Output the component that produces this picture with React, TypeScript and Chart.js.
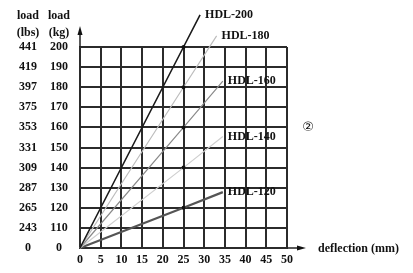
import React, { useEffect, useRef } from "react";
import { Chart, registerables } from "chart.js";

Chart.register(...registerables);

// Axis tick labels (broken load axis: 0, then 110..200 kg)
const kgLabels = ["0", "110", "120", "130", "140", "150", "160", "170", "180", "190", "200"];
const lbsLabels = ["0", "243", "265", "287", "309", "331", "353", "375", "397", "419", "441"];
const deflectionTicks = [0, 5, 10, 15, 20, 25, 30, 35, 40, 45, 50];

// Series: deflection (mm) and load (kg)
const seriesNames = ["HDL-200", "HDL-180", "HDL-160", "HDL-140", "HDL-120"];
const hdl200Deflection = [0, 25, 29];
const hdl200Load = [0, 200, 216];
const hdl180Deflection = [0, 25, 33];
const hdl180Load = [0, 180, 205.5];
const hdl160Deflection = [0, 25, 34.5];
const hdl160Load = [0, 160, 183];
const hdl140Deflection = [0, 25, 34.5];
const hdl140Load = [0, 140, 155.5];
const hdl120Deflection = [0, 25, 34.5];
const hdl120Load = [0, 120, 127.8];

const seriesColors = ["#1a1a1a", "#bdbdbd", "#8a8a8a", "#cfcfcf", "#555555"];
const seriesWidths = [1.6, 1.2, 1.2, 1.2, 2.2];

// kg -> row index on the broken axis (0 at origin, 110 at row 1, 200 at row 10)
const toRow = (kg: number) => (kg === 0 ? 0 : (kg - 100) / 10);

const FONT = '"Liberation Serif", "Times New Roman", serif';

export default function App() {
  const ref = useRef<HTMLCanvasElement | null>(null);

  useEffect(() => {
    if (!ref.current) return;
    const pairs = [
      [hdl200Deflection, hdl200Load],
      [hdl180Deflection, hdl180Load],
      [hdl160Deflection, hdl160Load],
      [hdl140Deflection, hdl140Load],
      [hdl120Deflection, hdl120Load],
    ];
    const datasets = pairs.map(([xs, ys], i) => ({
      label: seriesNames[i],
      data: xs.map((x, j) => ({ x, y: toRow(ys[j]) })),
      borderColor: seriesColors[i],
      borderWidth: seriesWidths[i],
      pointRadius: [0, 2, 0],
      pointBackgroundColor: "#111",
      pointBorderWidth: 0,
      clip: false as any,
      tension: 0,
    }));

    const decor = {
      id: "decor",
      afterDatasetsDraw(chart: any) {
        const ctx = chart.ctx;
        const a = chart.chartArea;
        ctx.save();
        ctx.fillStyle = "#111";
        ctx.strokeStyle = "#222";
        // y arrow
        ctx.lineWidth = 1.5;
        ctx.beginPath();
        ctx.moveTo(a.left, a.top);
        ctx.lineTo(a.left, a.top - 16);
        ctx.stroke();
        ctx.beginPath();
        ctx.moveTo(a.left, a.top - 21);
        ctx.lineTo(a.left - 2.5, a.top - 12);
        ctx.lineTo(a.left + 2.5, a.top - 12);
        ctx.closePath();
        ctx.fill();
        // x arrow
        ctx.beginPath();
        ctx.moveTo(a.right, a.bottom);
        ctx.lineTo(a.right + 14, a.bottom);
        ctx.stroke();
        ctx.beginPath();
        ctx.moveTo(a.right + 19, a.bottom);
        ctx.lineTo(a.right + 10, a.bottom - 2.5);
        ctx.lineTo(a.right + 10, a.bottom + 2.5);
        ctx.closePath();
        ctx.fill();
        // axis titles
        ctx.font = `bold 12px ${FONT}`;
        ctx.textBaseline = "middle";
        ctx.textAlign = "left";
        ctx.fillText("deflection (mm)", a.right + 31, a.bottom + 1);
        ctx.textAlign = "center";
        const yk = chart.scales.y;
        const yl = chart.scales.yLbs;
        const ck = yk.right - 21;
        const cl = yl.right - 16;
        ctx.fillText("load", cl, 16);
        ctx.fillText("(lbs)", cl, 33);
        ctx.fillText("load", ck, 16);
        ctx.fillText("(kg)", ck, 33);
        // circled number
        ctx.font = `13px ${FONT}, "DejaVu Sans"`;
        ctx.fillText("②", a.right + 21, 128);
        // series labels
        ctx.font = `bold 12px ${FONT}`;
        ctx.textAlign = "left";
        chart.data.datasets.forEach((ds: any, i: number) => {
          const meta = chart.getDatasetMeta(i);
          const p = meta.data[meta.data.length - 1];
          ctx.fillStyle = "#111";
          ctx.fillText(ds.label, p.x + 5, p.y);
        });
        ctx.restore();
      },
    };

    const font = { family: FONT, size: 12, weight: "bold" as const };
    const chart = new Chart(ref.current, {
      type: "line",
      data: { datasets },
      options: {
        animation: false,
        responsive: false,
        maintainAspectRatio: false,
        layout: { padding: { top: 47, right: 126, bottom: 0, left: 0 } },
        plugins: { legend: { display: false }, tooltip: { enabled: false } },
        scales: {
          x: {
            type: "linear",
            min: 0,
            max: 50,
            afterBuildTicks: (s: any) => {
              s.ticks = deflectionTicks.map((v) => ({ value: v }));
            },
            ticks: { font, color: "#111", padding: 5, maxRotation: 0 },
            grid: { color: "#2b2b2b", lineWidth: 2, drawTicks: false },
            border: { color: "#2b2b2b", width: 2 },
            afterFit: (s: any) => {
              s.height = 25;
            },
          },
          y: {
            type: "linear",
            position: "left",
            weight: 0,
            min: 0,
            max: 10,
            ticks: {
              stepSize: 1,
              font,
              color: "#111",
              crossAlign: "center",
              padding: 12,
              callback: (v: any) => kgLabels[Math.round(v)],
            },
            grid: { color: "#2b2b2b", lineWidth: 2, drawTicks: false },
            border: { color: "#2b2b2b", width: 2 },
            afterFit: (s: any) => {
              s.width = 36;
            },
          },
          yLbs: {
            type: "linear",
            position: "left",
            weight: 1,
            min: 0,
            max: 10,
            ticks: {
              stepSize: 1,
              font,
              color: "#111",
              crossAlign: "center",
              padding: 7,
              callback: (v: any) => lbsLabels[Math.round(v)],
            },
            grid: { display: false, drawTicks: false },
            border: { display: false },
            afterFit: (s: any) => {
              s.width = 44;
            },
          },
        },
      } as any,
      plugins: [decor],
    });
    return () => chart.destroy();
  }, []);

  return (
    <div style={{ position: "fixed", left: 0, top: 0, width: 413, height: 273, background: "#fff" }}>
      <canvas ref={ref} width={413} height={273} style={{ width: 413, height: 273 }} />
    </div>
  );
}
